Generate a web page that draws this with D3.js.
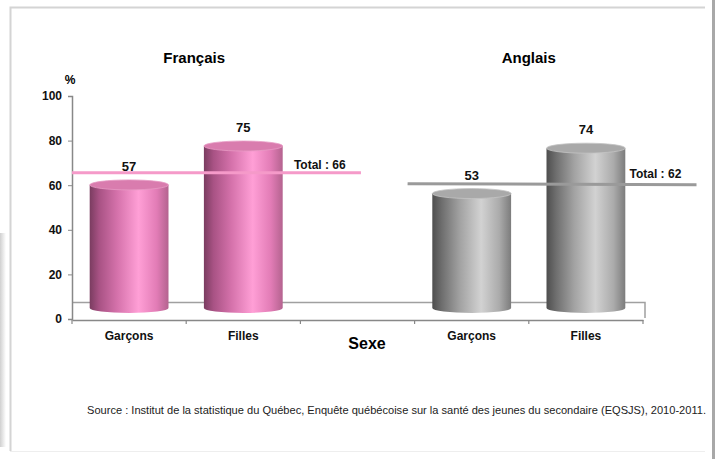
<!DOCTYPE html>
<html>
<head>
<meta charset="utf-8">
<script src="https://cdn.jsdelivr.net/npm/d3@7"></script>
<style>
  body { margin: 0; background: #fff; }
  svg text { font-family: "Liberation Sans", Arial, sans-serif; }
</style>
</head>
<body>
<div id="chart"></div>
<script>
var width = 715,
    height = 459;

// data
var slots = ["fr-g", "fr-f", "gap", "en-g", "en-f"];
var slotLabels = ["Garçons", "Filles", "", "Garçons", "Filles"];
var groups = ["Français", "Anglais"];
var groupSlots = [["fr-g", "fr-f"], ["en-g", "en-f"]];
var francais = [57, 75];
var anglais = [53, 74];
var totals = [66, 62];
var yTicks = [0, 20, 40, 60, 80, 100];

var svg = d3.select("#chart")
    .append("svg")
    .attr("width", width)
    .attr("height", height);

var defs = svg.append("defs");
function grad(id, stops) {
    var g = defs.append("linearGradient").attr("id", id)
        .attr("x1", "0%").attr("x2", "100%").attr("y1", "0%").attr("y2", "0%");
    stops.forEach(function (s) {
        g.append("stop").attr("offset", s[0]).attr("stop-color", s[1]);
    });
}
grad("pinkBar", [[0, "#7a3c60"], [0.12, "#a85284"], [0.35, "#d572ab"], [0.62, "#ff9fd6"], [0.85, "#e27cb6"], [1, "#b4638f"]]);
grad("grayBar", [[0, "#4e4e4e"], [0.12, "#6e6e6e"], [0.35, "#a2a2a2"], [0.62, "#d2d2d2"], [0.85, "#ababab"], [1, "#7c7c7c"]]);
grad("shadowLeft", [[0, "#d0d0d0"], [1, "#ffffff"]]);

// frame
svg.append("rect").attr("x", 0).attr("y", 233).attr("width", 6).attr("height", 214)
    .attr("fill", "url(#shadowLeft)");
svg.append("path")
    .attr("d", "M10.5,451 V7.5 H705")
    .attr("fill", "none").attr("stroke", "#d4d4d4").attr("stroke-width", 2);
svg.append("line").attr("x1", 10).attr("x2", 705).attr("y1", 451.5).attr("y2", 451.5)
    .attr("stroke", "#eeeeee");
svg.append("line").attr("x1", 713.5).attr("x2", 713.5).attr("y1", 0).attr("y2", height)
    .attr("stroke", "#a8a8a8").attr("stroke-width", 3);

var x = d3.scaleBand()
    .domain(slots)
    .range([72, 643]);

var y = d3.scaleLinear()
    .domain([0, 100])
    .range([319, 96]);

// bars sit on the 3D floor, slightly offset from the wall axis
var yBar = d3.scaleLinear()
    .domain([0, 100])
    .range([308, 92]);

// floor
svg.append("path")
    .attr("d", "M" + x.range()[0] + "," + (yBar(0) - 5.5) + " H" + (x.range()[1] + 2) + " V" + (y(0) - 1))
    .attr("fill", "none").attr("stroke", "#a0a0a0").attr("stroke-width", 1.5);

// y axis
var yAxis = svg.append("g")
    .attr("transform", "translate(72,0)")
    .call(d3.axisLeft(y).tickValues(yTicks).tickSize(4).tickPadding(6));
yAxis.select(".domain").attr("stroke", "#888").attr("stroke-width", 1.5);
yAxis.selectAll(".tick line").attr("stroke", "#888");
yAxis.selectAll(".tick text")
    .attr("font-family", "Liberation Sans, Arial, sans-serif")
    .attr("font-size", 12).attr("font-weight", "bold").attr("fill", "#111");

svg.append("text")
    .attr("x", 70).attr("y", 84)
    .attr("text-anchor", "middle")
    .attr("font-size", 12).attr("font-weight", "bold")
    .text("%");

// x axis
var xAxis = svg.append("g")
    .attr("transform", "translate(0," + (y(0) + 1) + ")")
    .call(d3.axisBottom(x).tickSize(0).tickFormat(function (d, i) { return slotLabels[i]; }).tickPadding(11));
xAxis.select(".domain").attr("stroke", "#888").attr("stroke-width", 1.5);
xAxis.selectAll(".tick text")
    .attr("font-family", "Liberation Sans, Arial, sans-serif")
    .attr("font-size", 12).attr("font-weight", "bold").attr("fill", "#111");
xAxis.selectAll(".sep")
    .data(slots.concat(["end"]))
    .enter().append("line")
    .attr("class", "sep")
    .attr("x1", function (d) { return d === "end" ? x.range()[1] : x(d); })
    .attr("x2", function (d) { return d === "end" ? x.range()[1] : x(d); })
    .attr("y1", 0).attr("y2", 4)
    .attr("stroke", "#888").attr("stroke-width", 1.2);

svg.append("text")
    .attr("x", 367).attr("y", 349)
    .attr("text-anchor", "middle")
    .attr("font-size", 16).attr("font-weight", "bold")
    .text("Sexe");

// bars
var bw = x.bandwidth() * 0.69,
    ry = 5;
var barData = [];
groupSlots.forEach(function (gs, gi) {
    var vals = gi === 0 ? francais : anglais;
    gs.forEach(function (s, i) {
        barData.push({ slot: s, value: vals[i], group: gi });
    });
});

var bars = svg.append("g").selectAll("g")
    .data(barData)
    .enter().append("g");

bars.append("path")
    .attr("d", function (d) {
        var cx = x(d.slot) + x.bandwidth() / 2,
            x0 = cx - bw / 2,
            x1 = cx + bw / 2,
            top = yBar(d.value),
            bot = yBar(0);
        return "M" + x0 + "," + top + " V" + bot +
            " A" + (bw / 2) + "," + ry + " 0 0 0 " + x1 + "," + bot +
            " V" + top + " Z";
    })
    .attr("fill", function (d) { return d.group === 0 ? "url(#pinkBar)" : "url(#grayBar)"; });

bars.append("ellipse")
    .attr("cx", function (d) { return x(d.slot) + x.bandwidth() / 2; })
    .attr("cy", function (d) { return yBar(d.value); })
    .attr("rx", bw / 2)
    .attr("ry", ry)
    .attr("fill", function (d) { return d.group === 0 ? "#d97cae" : "#a9a9a9"; })
    .attr("stroke", function (d) { return d.group === 0 ? "#e79ac4" : "#c4c4c4"; })
    .attr("stroke-width", 0.8);

// group titles
svg.selectAll(".gtitle")
    .data(groups)
    .enter().append("text")
    .attr("class", "gtitle")
    .attr("x", function (d, i) {
        var a = x(groupSlots[i][0]), b = x(groupSlots[i][1]) + x.bandwidth();
        return (a + b) / 2 + (i === 0 ? 8 : 0);
    })
    .attr("y", 63)
    .attr("text-anchor", "middle")
    .attr("font-size", 15).attr("font-weight", "bold")
    .text(function (d) { return d; });

// total lines
var lineLen = x.bandwidth() * 2.53;
totals.forEach(function (t, i) {
    var x0 = x(groupSlots[i][0]) - (i === 0 ? 0 : 7),
        x1 = x0 + lineLen;
    svg.append("line")
        .attr("x1", x0).attr("x2", x1)
        .attr("y1", y(t) + (i === 0 ? 1 : 3)).attr("y2", y(t) + (i === 0 ? 1 : 4))
        .attr("stroke", i === 0 ? "#f59ac9" : "#9a9a9a")
        .attr("stroke-width", 3);
    svg.append("text")
        .attr("x", x1 - 67)
        .attr("y", y(t) - 3)
        .attr("font-size", 12).attr("font-weight", "bold").attr("fill", "#111")
        .text("Total : " + t);
});

// value labels on top of everything
svg.append("g").selectAll("text")
    .data(barData)
    .enter().append("text")
    .attr("x", function (d) { return x(d.slot) + x.bandwidth() / 2; })
    .attr("y", function (d) { return yBar(d.value) - 14; })
    .attr("text-anchor", "middle")
    .attr("font-size", 13).attr("font-weight", "bold").attr("fill", "#111")
    .text(function (d) { return d.value; });

// source
svg.append("text")
    .attr("x", 87).attr("y", 414)
    .attr("font-family", "Liberation Sans Narrow, Liberation Sans, Arial, sans-serif")
    .attr("font-size", 11).attr("fill", "#222")
    .attr("textLength", 619).attr("lengthAdjust", "spacingAndGlyphs")
    .text("Source : Institut de la statistique du Québec, Enquête québécoise sur la santé des jeunes du secondaire (EQSJS), 2010-2011.");
</script>
</body>
</html>
